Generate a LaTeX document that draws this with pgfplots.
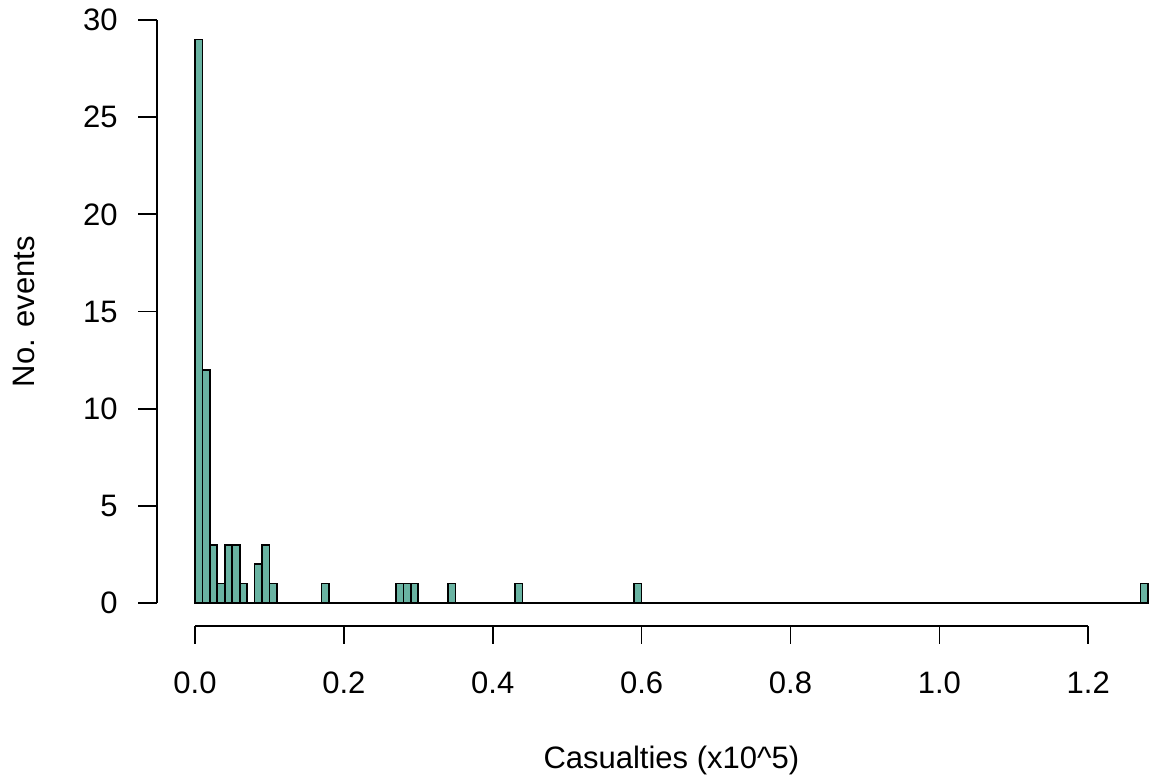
\documentclass[border=0pt]{standalone}
\usepackage{pgfplots}
\pgfplotsset{compat=1.18}
\usepackage{fontspec}
\setmainfont{Liberation Sans}
\definecolor{barfill}{HTML}{69B3A2}
\begin{document}
\begin{tikzpicture}
\begin{axis}[
  at={(0,0)}, anchor=south west,
  scale only axis,
  width=514.5pt, height=314.8pt,
  xmin=-0.0512, xmax=1.3312,
  ymin=-1.2, ymax=31.2,
  axis line style={draw=none},
  xtick=\empty, ytick=\empty,
  clip=false,
]
\addplot[ybar interval, fill=barfill, draw=black, line width=0.85pt] coordinates {
(0.00,29) (0.01,12) (0.02,3) (0.03,1) (0.04,3) (0.05,3) (0.06,1) (0.07,0) (0.08,2) (0.09,3)
(0.10,1) (0.11,0) (0.12,0) (0.13,0) (0.14,0) (0.15,0) (0.16,0) (0.17,1) (0.18,0) (0.19,0)
(0.20,0) (0.21,0) (0.22,0) (0.23,0) (0.24,0) (0.25,0) (0.26,0) (0.27,1) (0.28,1) (0.29,1)
(0.30,0) (0.31,0) (0.32,0) (0.33,0) (0.34,1) (0.35,0) (0.36,0) (0.37,0) (0.38,0) (0.39,0)
(0.40,0) (0.41,0) (0.42,0) (0.43,1) (0.44,0) (0.45,0) (0.46,0) (0.47,0) (0.48,0) (0.49,0)
(0.50,0) (0.51,0) (0.52,0) (0.53,0) (0.54,0) (0.55,0) (0.56,0) (0.57,0) (0.58,0) (0.59,1)
(0.60,0) (0.61,0) (0.62,0) (0.63,0) (0.64,0) (0.65,0) (0.66,0) (0.67,0) (0.68,0) (0.69,0)
(0.70,0) (0.71,0) (0.72,0) (0.73,0) (0.74,0) (0.75,0) (0.76,0) (0.77,0) (0.78,0) (0.79,0)
(0.80,0) (0.81,0) (0.82,0) (0.83,0) (0.84,0) (0.85,0) (0.86,0) (0.87,0) (0.88,0) (0.89,0)
(0.90,0) (0.91,0) (0.92,0) (0.93,0) (0.94,0) (0.95,0) (0.96,0) (0.97,0) (0.98,0) (0.99,0)
(1.00,0) (1.01,0) (1.02,0) (1.03,0) (1.04,0) (1.05,0) (1.06,0) (1.07,0) (1.08,0) (1.09,0)
(1.10,0) (1.11,0) (1.12,0) (1.13,0) (1.14,0) (1.15,0) (1.16,0) (1.17,0) (1.18,0) (1.19,0)
(1.20,0) (1.21,0) (1.22,0) (1.23,0) (1.24,0) (1.25,0) (1.26,0) (1.27,1) (1.28,1)
};
% x axis (R style)
\draw[line width=0.85pt] (axis cs:0,-1.2) -- (axis cs:1.2,-1.2);
\pgfplotsinvokeforeach{0.0,0.2,0.4,0.6,0.8,1.0,1.2}{
  \draw[line width=0.85pt] (axis cs:#1,-1.2) -- ([yshift=-9pt]axis cs:#1,-1.2);
  \node[anchor=base, inner sep=0pt, font=\fontsize{15.5pt}{18pt}\selectfont] at ([yshift=-33.4pt]axis cs:#1,-1.2) {#1};
}
% y axis
\draw[line width=0.85pt] (axis cs:-0.0512,0) -- (axis cs:-0.0512,30);
\pgfplotsinvokeforeach{0,5,10,15,20,25,30}{
  \draw[line width=0.85pt] (axis cs:-0.0512,#1) -- ([xshift=-9.5pt]axis cs:-0.0512,#1);
  \node[anchor=east, inner sep=0pt, font=\fontsize{15.5pt}{18pt}\selectfont] at ([xshift=-19.4pt]axis cs:-0.0512,#1) {#1};
}
% axis titles
\node[anchor=base, inner sep=0pt, font=\fontsize{15.5pt}{18pt}\selectfont] at ([yshift=-70.9pt]axis cs:0.64,-1.2) {Casualties (x10\^{}5)};
\node[anchor=base, rotate=90, inner sep=0pt, font=\fontsize{15.5pt}{18pt}\selectfont] at ([xshift=-61.4pt]axis cs:-0.0512,15) {No. events};
\end{axis}
\pgfresetboundingbox
\path[use as bounding box] (-78.45pt,-75.85pt) rectangle (496.05pt,313.15pt);
\end{tikzpicture}
\end{document}
